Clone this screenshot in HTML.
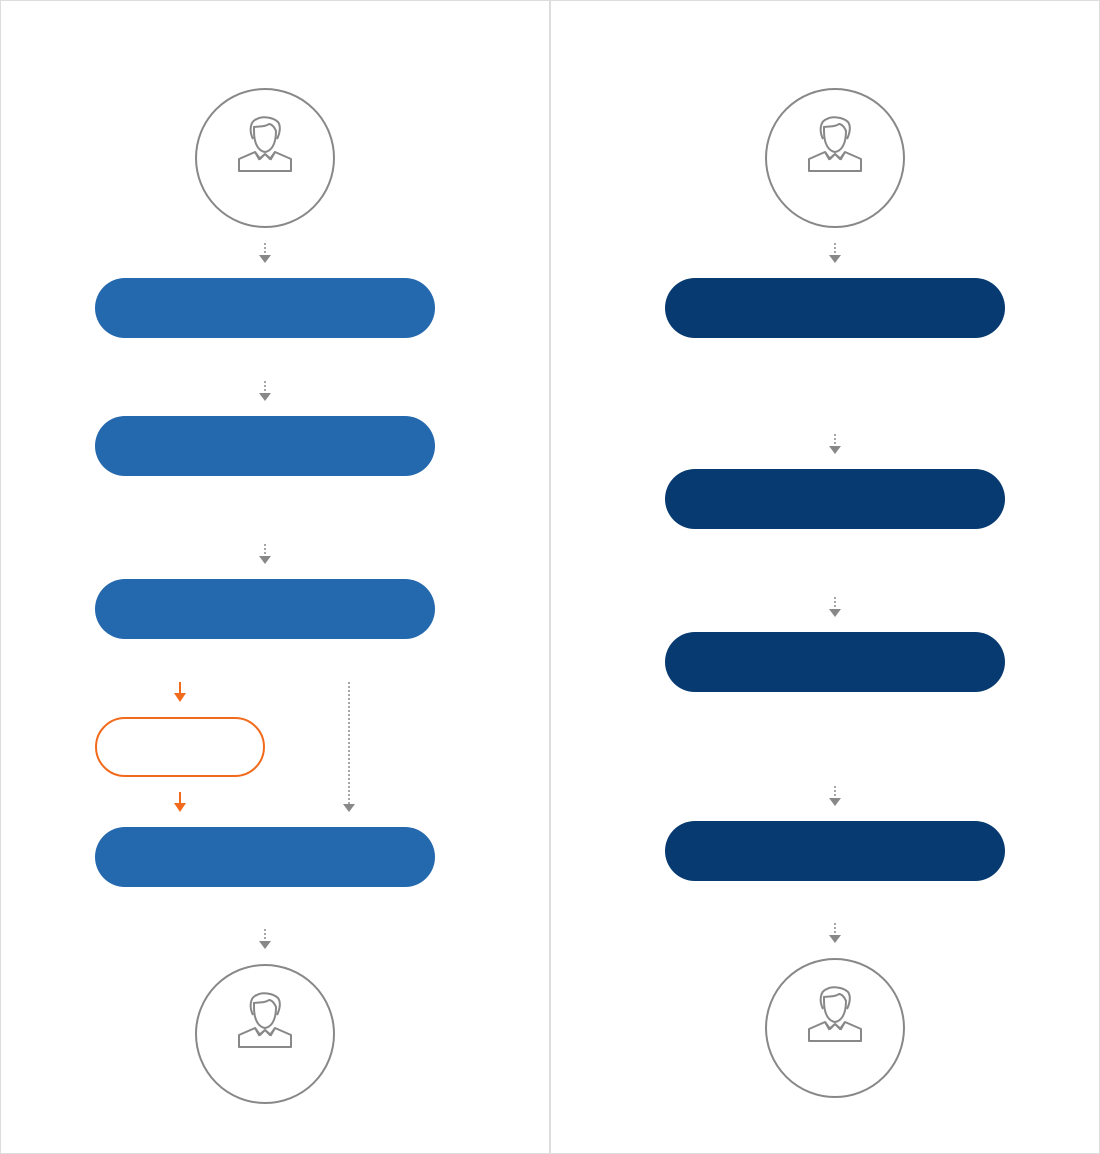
<!DOCTYPE html>
<html><head><meta charset="utf-8"><style>
html,body{margin:0;padding:0;background:#fff;}
svg{display:block;}
</style></head><body>
<svg width="1100" height="1154" viewBox="0 0 1100 1154" xmlns="http://www.w3.org/2000/svg">
<defs>
<g id="person">
<path d="M-12,-4 C-16,-12 -15,-22 -8,-24 C-3,-27 8,-26 13,-21 C16,-17 15,-10 12,-4" fill="none" stroke="#888" stroke-width="2"/>
<path d="M-11,-12 C-11,2 -6,8 0,9 C6,8 11,2 11,-12 C9,-17 6,-19 4,-19 C0,-16 -5,-17 -11,-16 Z" fill="none" stroke="#888" stroke-width="2"/>
<g transform="translate(0,6)">
<path d="M-26,22 L-26,10 L-10,3 L-5,10 L0,5 L5,10 L10,3 L26,10 L26,22 Z" fill="none" stroke="#888" stroke-width="2" stroke-linejoin="round"/>
<path d="M-5,10 L-10,3 M0,5 L-6,10 L-10,3 M0,5 L6,10 L10,3" fill="none" stroke="#888" stroke-width="2"/>
</g>
</g>
<g id="garrow">
<line x1="0" y1="0" x2="0" y2="12" stroke="#888" stroke-width="1.5" stroke-dasharray="2,2"/>
<path d="M-6,12 L6,12 L0,20 Z" fill="#888"/>
</g>
</defs>
<rect x="0.5" y="0.5" width="549" height="1153" fill="none" stroke="#ddd"/>
<rect x="550.5" y="0.5" width="549" height="1153" fill="none" stroke="#ddd"/>

<!-- left -->
<g><circle cx="265" cy="158" r="69" fill="#fff" stroke="#888" stroke-width="2"/><use href="#person" x="265" y="143"/></g>
<use href="#garrow" x="265" y="243"/>
<rect x="95" y="278" width="340" height="60" rx="30" fill="#2468ae"/>
<use href="#garrow" x="265" y="381"/>
<rect x="95" y="416" width="340" height="60" rx="30" fill="#2468ae"/>
<use href="#garrow" x="265" y="544"/>
<rect x="95" y="579" width="340" height="60" rx="30" fill="#2468ae"/>
<g><line x1="180" y1="682" x2="180" y2="695" stroke="#f26a1b" stroke-width="2"/><path d="M174,693 L186,693 L180,702 Z" fill="#f26a1b"/></g>
<rect x="96" y="718" width="168" height="58" rx="29" fill="#fff" stroke="#f26a1b" stroke-width="2"/>
<g><line x1="180" y1="792" x2="180" y2="805" stroke="#f26a1b" stroke-width="2"/><path d="M174,803 L186,803 L180,812 Z" fill="#f26a1b"/></g>
<g><line x1="349" y1="682" x2="349" y2="804" stroke="#888" stroke-width="1.5" stroke-dasharray="2,2"/><path d="M343,804 L355,804 L349,812 Z" fill="#888"/></g>
<rect x="95" y="827" width="340" height="60" rx="30" fill="#2468ae"/>
<use href="#garrow" x="265" y="929"/>
<g><circle cx="265" cy="1034" r="69" fill="#fff" stroke="#888" stroke-width="2"/><use href="#person" x="265" y="1019"/></g>

<!-- right -->
<g><circle cx="835" cy="158" r="69" fill="#fff" stroke="#888" stroke-width="2"/><use href="#person" x="835" y="143"/></g>
<use href="#garrow" x="835" y="243"/>
<rect x="665" y="278" width="340" height="60" rx="30" fill="#073a70"/>
<use href="#garrow" x="835" y="434"/>
<rect x="665" y="469" width="340" height="60" rx="30" fill="#073a70"/>
<use href="#garrow" x="835" y="597"/>
<rect x="665" y="632" width="340" height="60" rx="30" fill="#073a70"/>
<use href="#garrow" x="835" y="786"/>
<rect x="665" y="821" width="340" height="60" rx="30" fill="#073a70"/>
<use href="#garrow" x="835" y="923"/>
<g><circle cx="835" cy="1028" r="69" fill="#fff" stroke="#888" stroke-width="2"/><use href="#person" x="835" y="1013"/></g>
</svg>
</body></html>
